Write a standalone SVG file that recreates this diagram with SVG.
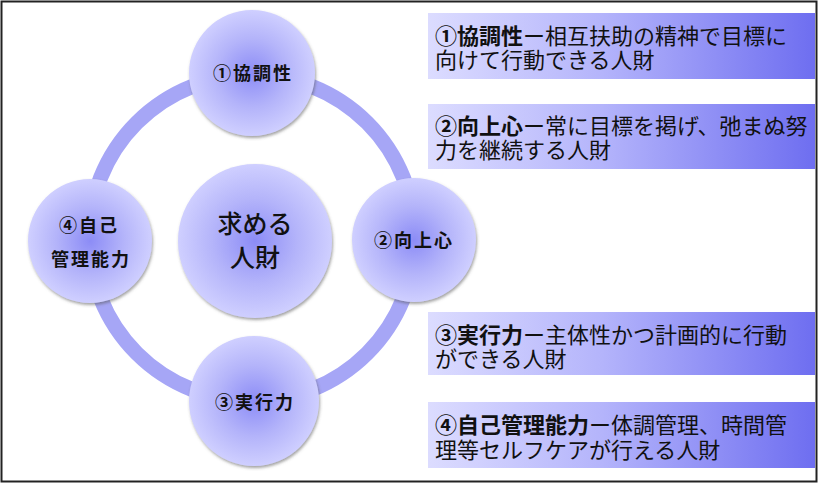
<svg xmlns="http://www.w3.org/2000/svg" width="818" height="483" viewBox="0 0 818 483">
<style>
text{font-family:"Noto Sans CJK JP","Noto Sans CJK SC",sans-serif;fill:#111}
.node{fill:url(#rg);filter:url(#sh)}
.lbl{font-size:18px;font-weight:bold;letter-spacing:2px;text-anchor:middle}
.ctr{font-size:25px;font-weight:500;text-anchor:middle}
.box{fill:url(#lg)}
.bt{font-size:22px}
.b{font-weight:bold}
</style>
<defs>
<radialGradient id="rg" cx="0.5" cy="0.5" r="0.5">
<stop offset="0" stop-color="#8c8cf6"/>
<stop offset="0.55" stop-color="#b4b4fa"/>
<stop offset="1" stop-color="#cfcfff"/>
</radialGradient>
<linearGradient id="lg" x1="0" y1="0" x2="1" y2="0">
<stop offset="0" stop-color="#dcdcff"/>
<stop offset="0.45" stop-color="#b4b4fb"/>
<stop offset="1" stop-color="#6e6ef0"/>
</linearGradient>
<filter id="sh" x="-20%" y="-20%" width="140%" height="140%">
<feDropShadow dx="1" dy="2" stdDeviation="1.5" flood-color="#555" flood-opacity="0.55"/>
</filter>
</defs>
<rect x="1.5" y="1.5" width="815" height="480" fill="#fff" stroke="#222" stroke-width="2"/>
<g id="connectors">
<circle cx="252" cy="238" r="163" fill="none" stroke="#a6a6f6" stroke-width="15"/>
</g>
<g id="center">
<circle class="node" cx="255" cy="241" r="77"/>
<text class="ctr" x="255" y="233">求める</text>
<text class="ctr" x="255" y="267">人財</text>
</g>
<g id="n1">
<circle class="node" cx="252" cy="73" r="63"/>
<text class="lbl" x="253" y="80">①協調性</text>
</g>
<g id="n2">
<circle class="node" cx="414" cy="240" r="62"/>
<text class="lbl" x="414" y="247">②向上心</text>
</g>
<g id="n3">
<circle class="node" cx="254" cy="401" r="65"/>
<text class="lbl" x="255" y="409">③実行力</text>
</g>
<g id="n4">
<circle class="node" cx="90" cy="241" r="62"/>
<text class="lbl" x="89" y="232">④自己</text>
<text class="lbl" x="91" y="266">管理能力</text>
</g>
<g id="box1">
<rect class="box" x="428" y="13" width="387" height="66"/>
<text class="bt" x="435" y="44"><tspan class="b">①協調性</tspan>ー相互扶助の精神で目標に</text>
<text class="bt" x="435" y="68">向けて行動できる人財</text>
</g>
<g id="box2">
<rect class="box" x="428" y="104" width="387" height="65"/>
<text class="bt" x="435" y="134"><tspan class="b">②向上心</tspan>ー常に目標を掲げ、弛まぬ努</text>
<text class="bt" x="435" y="158">力を継続する人財</text>
</g>
<g id="box3">
<rect class="box" x="428" y="312" width="387" height="63"/>
<text class="bt" x="435" y="343"><tspan class="b">③実行力</tspan>ー主体性かつ計画的に行動</text>
<text class="bt" x="435" y="367">ができる人財</text>
</g>
<g id="box4">
<rect class="box" x="428" y="402" width="387" height="66"/>
<text class="bt" x="435" y="433"><tspan class="b">④自己管理能力</tspan>ー体調管理、時間管</text>
<text class="bt" x="435" y="458">理等セルフケアが行える人財</text>
</g>
</svg>
